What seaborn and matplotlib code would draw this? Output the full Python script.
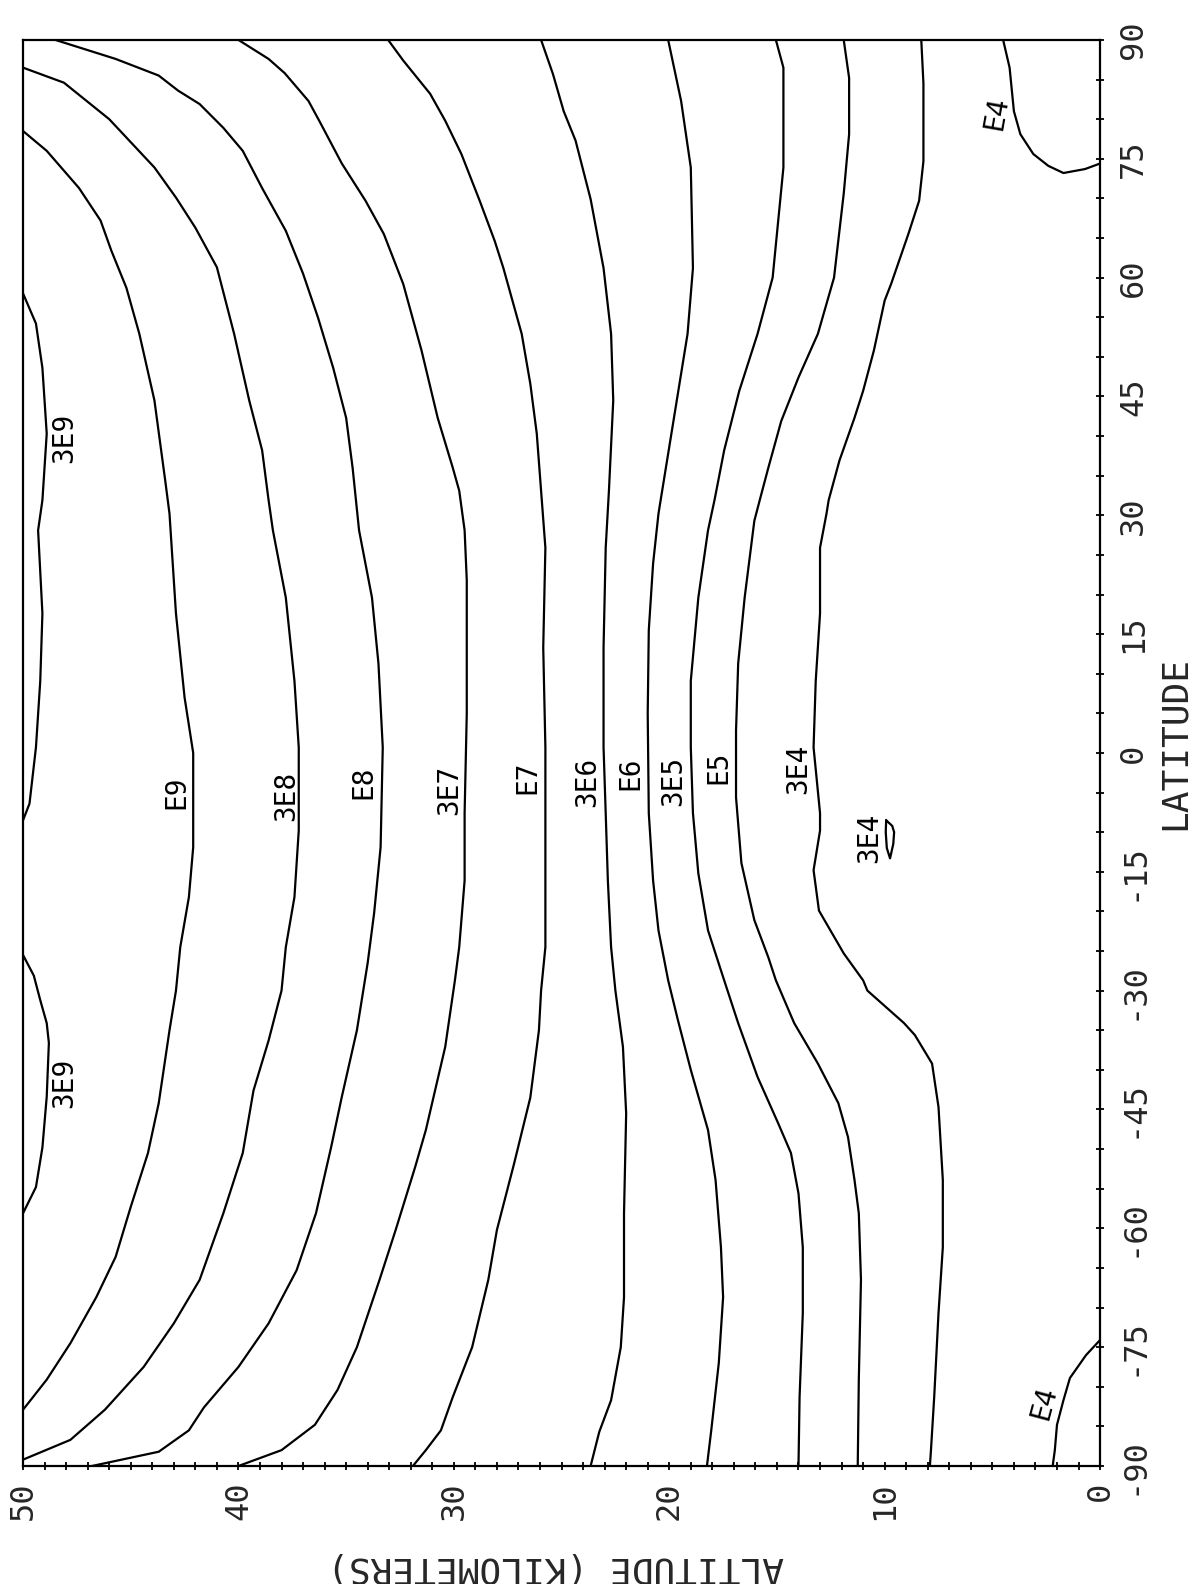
import matplotlib
matplotlib.use("Agg")
import matplotlib.pyplot as plt
import pandas as pd
import seaborn as sns
from matplotlib.ticker import MultipleLocator

# contour lines: latitude (deg) and altitude (km)
lat_3e9_n = [58.0, 54.2, 48.6, 40.3, 31.9, 28.1, 17.6, 9.1, 0.7, -6.4, -8.5]
alt_3e9_n = [50.0, 49.4, 49.1, 48.9, 49.1, 49.3, 49.1, 49.2, 49.4, 49.7, 50.0]

lat_3e9_s = [-25.5, -28.1, -31.2, -34.1, -36.6, -43.4, -49.8, -54.8, -58.1]
alt_3e9_s = [50.0, 49.5, 49.2, 48.9, 48.8, 48.9, 49.1, 49.4, 50.0]

lat_e9 = [78.5, 76.0, 71.3, 67.2, 63.4, 58.7, 52.9, 44.5, 34.4, 30.2, 17.6, 7.0, 0.0,
          -11.9, -18.2, -24.5, -30.0, -35.0, -44.2, -50.5, -57.3, -63.6, -68.7, -74.5,
          -79.1, -82.9]
alt_e9 = [50.0, 48.9, 47.4, 46.4, 45.9, 45.2, 44.6, 43.9, 43.4, 43.2, 42.9, 42.5, 42.1,
          42.1, 42.3, 42.7, 42.9, 43.2, 43.7, 44.2, 45.0, 45.7, 46.6, 47.8, 48.9, 50.0]

lat_3e8 = [86.5, 84.6, 80.0, 73.9, 70.1, 66.3, 61.3, 52.9, 44.5, 38.2, 31.9, 28.1, 19.6,
           9.1, 0.7, -9.8, -18.2, -24.5, -30.0, -36.3, -42.6, -50.5, -58.1, -66.5,
           -72.0, -77.5, -82.9, -86.7, -89.2]
alt_3e8 = [50.0, 48.1, 46.0, 43.9, 42.9, 42.0, 41.0, 40.2, 39.5, 38.9, 38.6, 38.4, 37.8,
           37.4, 37.2, 37.2, 37.4, 37.8, 38.0, 38.6, 39.3, 39.8, 40.7, 41.8, 43.0, 44.4,
           46.2, 47.8, 50.0]

lat_e8 = [90, 87.6, 85.5, 83.6, 81.9, 78.9, 76.0, 71.3, 65.9, 60.5, 54.9, 48.6, 42.3,
          36.0, 28.1, 19.6, 11.3, 0.7, -11.9, -20.2, -26.5, -35.0, -43.4, -49.8, -58.1,
          -65.3, -72.0, -77.5, -82.6, -85.5, -88.2, -90]
alt_e8 = [48.5, 45.7, 43.7, 42.8, 41.8, 40.7, 39.8, 38.9, 37.8, 37.0, 36.3, 35.6, 35.0,
          34.7, 34.4, 33.8, 33.5, 33.3, 33.4, 33.7, 34.0, 34.5, 35.2, 35.7, 36.4, 37.3,
          38.6, 40.0, 41.6, 42.3, 43.7, 46.8]

lat_3e7 = [90, 87.6, 85.8, 82.3, 79.8, 74.4, 69.7, 65.5, 59.2, 50.8, 42.3, 36.0, 33.1,
           28.1, 21.8, 5.0, -7.6, -16.1, -24.5, -28.7, -37.1, -47.6, -52.3, -60.2,
           -66.5, -75.0, -80.4, -84.8, -88.0, -90]
alt_3e7 = [40.0, 38.6, 37.85, 36.75, 36.25, 35.2, 34.1, 33.25, 32.35, 31.5, 30.75, 30.05,
           29.75, 29.5, 29.4, 29.4, 29.5, 29.5, 29.75, 29.95, 30.4, 31.3, 31.8, 32.7,
           33.45, 34.5, 35.4, 36.45, 38.0, 40.0]

lat_e7 = [90, 87.4, 83.2, 79.8, 75.6, 69.7, 64.6, 61.2, 52.9, 46.6, 40.3, 33.1, 25.9,
          13.3, 0.7, -11.9, -24.5, -30.0, -35.0, -43.5, -51.8, -60.2, -66.5, -75.0,
          -81.3, -85.5, -88.0, -90]
alt_e7 = [33.05, 32.35, 31.1, 30.4, 29.65, 28.8, 28.1, 27.7, 26.85, 26.45, 26.15, 25.95,
          25.75, 25.85, 25.75, 25.75, 25.75, 25.95, 26.05, 26.45, 27.2, 28.0, 28.4,
          29.15, 30.05, 30.6, 31.3, 31.9]

lat_3e6 = [90, 85.7, 81.0, 77.3, 69.9, 61.2, 52.9, 44.5, 33.1, 25.9, 13.3, 0.7, -7.6,
           -16.1, -24.5, -30.0, -37.1, -45.5, -58.1, -68.7, -75.0, -81.7, -85.7, -90]
alt_3e6 = [25.95, 25.4, 24.9, 24.35, 23.65, 23.05, 22.7, 22.6, 22.8, 22.95, 23.05, 23.05,
           22.95, 22.85, 22.7, 22.5, 22.15, 22.0, 22.1, 22.1, 22.25, 22.7, 23.25, 23.65]

lat_e6 = [90, 82.3, 73.9, 61.2, 52.9, 40.3, 31.9, 30.2, 23.9, 15.5, 5.0, -7.6, -16.1,
          -22.4, -28.7, -33.7, -40.0, -47.6, -53.9, -62.4, -68.7, -77.0, -85.5, -90]
alt_e6 = [20.05, 19.45, 19.0, 18.9, 19.15, 19.9, 20.4, 20.5, 20.75, 20.95, 21.0, 20.95,
          20.75, 20.5, 20.05, 19.6, 19.0, 18.2, 17.85, 17.6, 17.5, 17.7, 18.05, 18.25]

lat_3e5 = [90, 86.5, 73.9, 60.0, 52.9, 45.7, 38.2, 31.9, 28.1, 19.6, 9.1, 0.7, -7.6,
           -15.2, -22.4, -28.7, -34.1, -40.9, -46.7, -50.5, -55.6, -62.4, -70.7, -81.3,
           -90]
alt_3e5 = [15.05, 14.7, 14.7, 15.2, 15.9, 16.75, 17.45, 17.9, 18.2, 18.65, 19.0, 19.0,
           18.9, 18.65, 18.2, 17.45, 16.8, 15.9, 14.95, 14.35, 14.0, 13.8, 13.8, 13.95,
           14.0]

lat_e5 = [90, 85.2, 78.1, 70.6, 60.0, 52.9, 47.4, 41.9, 36.0, 31.9, 29.3, 19.6, 11.3,
          2.8, -5.6, -13.9, -21.1, -25.8, -28.7, -34.1, -39.2, -44.2, -48.5, -53.9,
          -58.1, -66.5, -79.1, -90]
alt_e5 = [11.9, 11.65, 11.65, 11.9, 12.35, 13.1, 14.0, 14.8, 15.4, 15.8, 16.05, 16.5,
          16.8, 16.9, 16.9, 16.65, 16.05, 15.4, 15.05, 14.2, 13.1, 12.15, 11.7, 11.4,
          11.2, 11.1, 11.2, 11.25]

lat_3e4 = [90, 84.5, 74.7, 69.7, 65.5, 59.2, 57.1, 50.8, 45.7, 42.3, 36.9, 31.9, 30.2,
           25.9, 17.6, 9.1, 0.7, -7.6, -9.8, -14.8, -19.9, -25.3, -28.7, -30.0, -34.1,
           -35.6, -39.2, -44.7, -53.9, -62.4, -70.7, -81.3, -88.0, -90]
alt_3e4 = [8.3, 8.2, 8.2, 8.4, 8.9, 9.7, 10.0, 10.5, 11.0, 11.4, 12.1, 12.6, 12.7, 13.0,
           13.0, 13.2, 13.3, 13.0, 13.0, 13.3, 13.05, 11.9, 11.0, 10.8, 9.1, 8.6, 7.8,
           7.5, 7.3, 7.3, 7.5, 7.7, 7.85, 7.9]

lat_3e4_loop = [-8.5, -9.2, -10.0, -11.5, -13.3, -12.0, -10.0, -8.5]
alt_3e4_loop = [9.93, 9.65, 9.56, 9.6, 9.75, 9.9, 9.95, 9.93]

lat_e4_n = [90, 86.5, 81.0, 78.1, 75.6, 74.1, 73.2, 73.7, 74.4]
alt_e4_n = [4.5, 4.2, 4.0, 3.7, 3.1, 2.4, 1.7, 0.7, 0.0]

lat_e4_s = [-74.1, -76.0, -78.9, -81.7, -84.8, -88.0, -90.0]
alt_e4_s = [0.0, 0.65, 1.4, 1.7, 2.0, 2.1, 2.2]

# contour labels
label_text = ["3E9", "3E9", "E9", "3E8", "E8", "3E7", "E7", "3E6", "E6", "3E5", "E5",
              "3E4", "3E4", "E4", "E4"]
label_lat = [39.8, -41.7, -5.0, -5.4, -3.7, -4.7, -3.1, -3.7, -2.5, -3.5, -1.8, -2.0,
             -10.7, 80.7, -82.0]
label_alt = [48.1, 48.1, 42.9, 37.8, 34.2, 30.2, 26.6, 23.8, 21.8, 19.8, 17.7, 14.0,
             10.7, 4.8, 2.6]
label_rot = [90, 90, 90, 90, 90, 90, 90, 90, 90, 90, 90, 90, 90, 80, 75]

lat_ticks = [90, 75, 60, 45, 30, 15, 0, -15, -30, -45, -60, -75, -90]
alt_ticks = [0, 10, 20, 30, 40, 50]

sns.set_theme(style="white")
plt.rcParams["font.family"] = ["DejaVu Sans Mono", "DejaVu Sans"]

pieces = [
    (lat_3e9_n, alt_3e9_n), (lat_3e9_s, alt_3e9_s), (lat_e9, alt_e9),
    (lat_3e8, alt_3e8), (lat_e8, alt_e8), (lat_3e7, alt_3e7), (lat_e7, alt_e7),
    (lat_3e6, alt_3e6), (lat_e6, alt_e6), (lat_3e5, alt_3e5), (lat_e5, alt_e5),
    (lat_3e4, alt_3e4), (lat_3e4_loop, alt_3e4_loop), (lat_e4_n, alt_e4_n),
    (lat_e4_s, alt_e4_s),
]
df = pd.concat(
    [pd.DataFrame({"seg": i, "lat": la, "alt": al}) for i, (la, al) in enumerate(pieces)],
    ignore_index=True,
)

fig = plt.figure(figsize=(11.93, 15.84), dpi=100)
ax = fig.add_axes([0.0193, 0.0745, 0.9028, 0.9003])

sns.lineplot(data=df, x="alt", y="lat", units="seg", estimator=None, sort=False,
             color="black", linewidth=1.6, ax=ax, legend=False)

ax.set_xlim(50, 0)
ax.set_ylim(-90, 90)
ax.set_xlabel("")
ax.set_ylabel("")

for t, la, al, r in zip(label_text, label_lat, label_alt, label_rot):
    ax.text(al, la, t, rotation=r, ha="center", va="center", fontsize=20, color="black")

# latitude axis on the right, altitude along the bottom
ax.yaxis.tick_right()
ax.set_yticks(lat_ticks)
ax.set_yticklabels([str(v) for v in lat_ticks], rotation=90, va="center", fontsize=23)
ax.yaxis.set_minor_locator(MultipleLocator(5))
ax.set_xticks(alt_ticks)
ax.set_xticklabels([str(v) for v in alt_ticks], rotation=90, ha="center", va="top",
                   fontsize=23)
ax.xaxis.set_minor_locator(MultipleLocator(1))

ax.tick_params(which="both", direction="inout", length=6, width=1.3, color="black")
ax.tick_params(axis="y", which="both", left=False, right=True, pad=10)
ax.tick_params(axis="x", which="both", bottom=True, top=False, pad=8)

for s in ax.spines.values():
    s.set_visible(True)
    s.set_color("black")
    s.set_linewidth(1.6)
ax.grid(False)

fig.text(1175 / 1193, 1 - 743 / 1584, "LATITUDE", rotation=90, ha="center", va="center",
         fontsize=26)
fig.text(556 / 1193, 1 - 1567 / 1584, "ALTITUDE (KILOMETERS)", rotation=180, ha="center",
         va="center", fontsize=26)

fig.savefig("out.png", dpi=100, facecolor="white")
